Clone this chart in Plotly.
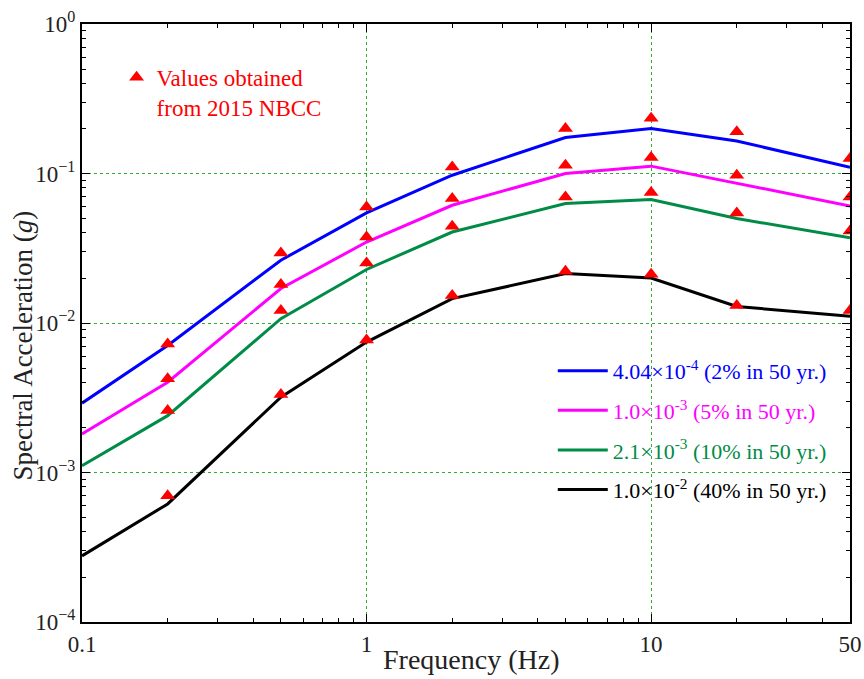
import plotly.graph_objects as go

# ---------------- data ----------------
freq_line = [0.1, 0.2, 0.5, 1, 2, 5, 10, 20, 50]
freq_pts = [0.2, 0.5, 1, 2, 5, 10, 20, 50]

line_2pct = [0.00291, 0.00708, 0.0263, 0.0545, 0.0974, 0.174, 0.200, 0.165, 0.110]
line_5pct = [0.00181, 0.00402, 0.0170, 0.0348, 0.0613, 0.100, 0.112, 0.0857, 0.0607]
line_10pct = [0.00111, 0.00240, 0.0107, 0.0228, 0.0406, 0.063, 0.067, 0.050, 0.0371]
line_40pct = [0.000277, 0.000616, 0.00319, 0.00745, 0.01455, 0.0214, 0.0200, 0.0129, 0.0111]

nbcc_2pct = [0.00724, 0.0294, 0.0598, 0.1107, 0.200, 0.234, 0.190, 0.126]
nbcc_5pct = [0.00424, 0.0181, 0.0376, 0.068, 0.1137, 0.128, 0.0974, 0.0697]
nbcc_10pct = [0.0026, 0.0121, 0.0252, 0.0444, 0.0697, 0.0746, 0.0545, 0.0413]
nbcc_40pct = [0.00070, 0.00333, 0.0077, 0.0153, 0.0222, 0.0212, 0.0131, 0.0121]

series_names = [
    "4.04×10<sup>-4</sup> (2% in 50 yr.)",
    "1.0×10<sup>-3</sup> (5% in 50 yr.)",
    "2.1×10<sup>-3</sup> (10% in 50 yr.)",
    "1.0×10<sup>-2</sup> (40% in 50 yr.)",
]
series_colors = ["#0000ff", "#ff00ff", "#008c46", "#000000"]
line_values = [line_2pct, line_5pct, line_10pct, line_40pct]
nbcc_values = [nbcc_2pct, nbcc_5pct, nbcc_10pct, nbcc_40pct]

x_tickvals = [0.1, 1, 10, 50]
x_ticktext = ["0.1", "1", "10", "50"]
y_tickvals = [1e-4, 1e-3, 1e-2, 1e-1, 1]
y_ticktext = ["10<sup>−4</sup>", "10<sup>−3</sup>", "10<sup>−2</sup>", "10<sup>−1</sup>", "10<sup>0</sup>"]

x_title = "Frequency (Hz)"
y_title = "Spectral Acceleration (<i>g</i>)"

FONT = "Liberation Serif"
TXT = "#222222"

fig = go.Figure()

for i, (name, color, vals) in enumerate(zip(series_names, series_colors, line_values)):
    fig.add_trace(go.Scatter(
        x=freq_line, y=vals, mode="lines",
        line=dict(color=color, width=3),
        name=f"<span style='color:{color}'>{name}</span>",
        legendgroup=f"g{i}", legend="legend",
    ))

for i, vals in enumerate(nbcc_values):
    fig.add_trace(go.Scatter(
        x=freq_pts, y=vals, mode="markers",
        marker=dict(symbol="triangle-up", size=13, color="#ff0000"),
        name="Values obtained<br>from 2015 NBCC",
        showlegend=(i == 0), legend="legend2",
    ))

minor_x = [m * 10 ** e for e in (-1, 0, 1) for m in range(2, 10) if m * 10 ** e < 50]
minor_y = [m * 10 ** e for e in (-4, -3, -2, -1) for m in range(2, 10)]

grid_color = "#2fae2f"

common_axis = dict(
    ticks="inside", ticklen=8, tickwidth=1.2, tickcolor="black",
    showline=True, linecolor="black", linewidth=2, mirror="allticks",
    showgrid=True, gridcolor=grid_color, griddash="dot", gridwidth=1,
    tickfont=dict(family=FONT, size=23, color=TXT),
    zeroline=False, automargin=False,
)

fig.update_xaxes(
    type="log", range=[-1, 1.69897],
    tickmode="array", tickvals=x_tickvals, ticktext=x_ticktext,
    minor=dict(tickmode="array", tickvals=minor_x, ticks="inside", ticklen=4,
               tickwidth=1, tickcolor="black", showgrid=False),
    **common_axis,
)
fig.update_yaxes(
    type="log", range=[-4, 0],
    tickmode="array", tickvals=y_tickvals, ticktext=y_ticktext,
    minor=dict(tickmode="array", tickvals=minor_y, ticks="inside", ticklen=4,
               tickwidth=1, tickcolor="black", showgrid=False),
    **common_axis,
)

fig.add_annotation(
    text=x_title, xref="paper", yref="paper", x=0.507, y=-0.063,
    xanchor="center", yanchor="middle", showarrow=False,
    font=dict(family=FONT, size=28, color=TXT),
)
fig.add_annotation(
    text=y_title, xref="paper", yref="paper", x=-0.077, y=0.462,
    xanchor="center", yanchor="middle", textangle=-90, showarrow=False,
    font=dict(family=FONT, size=27, color=TXT),
)

fig.update_layout(
    width=864, height=679,
    margin=dict(l=82, r=14, t=24, b=57),
    paper_bgcolor="white", plot_bgcolor="white",
    font=dict(family=FONT),
    legend=dict(
        x=0.613, y=0.455, xanchor="left", yanchor="top",
        bgcolor="rgba(0,0,0,0)", borderwidth=0,
        font=dict(family=FONT, size=22),
        tracegroupgap=8, itemwidth=50,
    ),
    legend2=dict(
        x=0.045, y=0.947, xanchor="left", yanchor="top",
        bgcolor="rgba(0,0,0,0)", borderwidth=0,
        font=dict(family=FONT, size=23, color="#ff0000"),
        valign="top",
    ),
)

fig.write_html("out.html", config={"displayModeBar": False},
               post_script="document.body.style.margin='0';")
